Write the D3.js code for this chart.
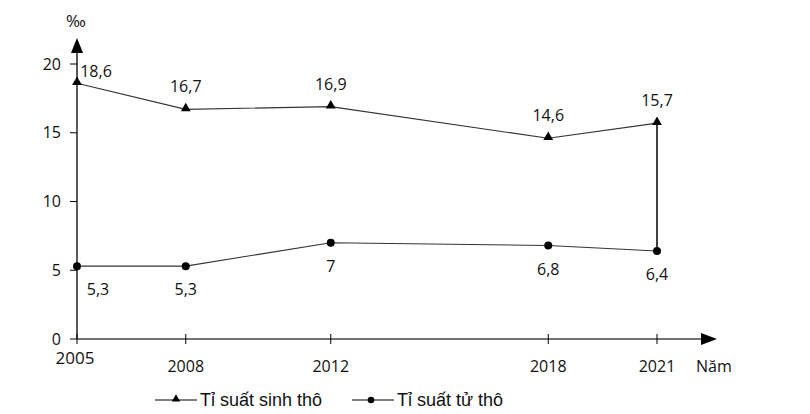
<!DOCTYPE html>
<html>
<head>
<meta charset="utf-8">
<script src="https://cdn.jsdelivr.net/npm/d3@7"></script>
<style>
  body { margin: 0; background: #fff; }
  svg text { font-family: "Open Sans", sans-serif; fill: #111; }
</style>
</head>
<body>
<div id="chart"></div>
<script>
// data
const years = [2005, 2008, 2012, 2018, 2021];
const birthRate = [18.6, 16.7, 16.9, 14.6, 15.7];
const deathRate = [5.3, 5.3, 7.0, 6.8, 6.4];
const birthLabels = ["18,6", "16,7", "16,9", "14,6", "15,7"];
const deathLabels = ["5,3", "5,3", "7", "6,8", "6,4"];
const yTicks = [0, 5, 10, 15, 20];

const width = 810, height = 414;

const svg = d3.select("#chart").append("svg")
    .attr("width", width)
    .attr("height", height);

const x = d3.scaleLinear().domain([2005, 2021]).range([77, 657]);
const y = d3.scaleLinear().domain([0, 20]).range([339, 64]);

// y axis with arrow
svg.append("line")
    .attr("x1", x(2005)).attr("x2", x(2005))
    .attr("y1", y(0)).attr("y2", 50)
    .attr("stroke", "#000").attr("stroke-width", 1.3);
svg.append("path")
    .attr("d", `M${x(2005)},38 L${x(2005) - 6},53 L${x(2005) + 6},53 Z`)
    .attr("fill", "#000");
svg.append("text")
    .attr("x", 76).attr("y", 27)
    .attr("text-anchor", "middle")
    .style("font-size", "17px")
    .text("‰");

yTicks.forEach(t => {
    svg.append("line")
        .attr("x1", 70).attr("x2", x(2005))
        .attr("y1", y(t)).attr("y2", y(t))
        .attr("stroke", "#000");
    svg.append("text")
        .attr("x", 61).attr("y", y(t))
        .attr("dy", "0.35em")
        .attr("text-anchor", "end")
        .style("font-size", "16px")
        .text(t);
});

// x axis with arrow
svg.append("line")
    .attr("x1", x(2005)).attr("x2", 705)
    .attr("y1", y(0)).attr("y2", y(0))
    .attr("stroke", "#444").attr("stroke-width", 1.5);
svg.append("path")
    .attr("d", `M717,${y(0)} L701,${y(0) - 6} L701,${y(0) + 6} Z`)
    .attr("fill", "#000");

years.forEach((yr, i) => {
    svg.append("line")
        .attr("x1", x(yr)).attr("x2", x(yr))
        .attr("y1", y(0) - 5).attr("y2", y(0) + 5)
        .attr("stroke", "#000");
    svg.append("text")
        .attr("x", i === 0 ? x(yr) - 2 : x(yr))
        .attr("y", i === 0 ? 364 : 372)
        .attr("text-anchor", "middle")
        .style("font-size", i === 0 ? "17px" : "16px")
        .text(yr);
});
svg.append("text")
    .attr("x", 696).attr("y", 372)
    .style("font-size", "16px")
    .text("Năm");

const line = d3.line().x(d => x(d[0])).y(d => y(d[1]));
const birthPts = years.map((yr, i) => [yr, birthRate[i]]);
const deathPts = years.map((yr, i) => [yr, deathRate[i]]);

svg.append("path")
    .attr("d", line(birthPts))
    .attr("fill", "none").attr("stroke", "#333").attr("stroke-width", 1.1);
svg.append("path")
    .attr("d", line(deathPts))
    .attr("fill", "none").attr("stroke", "#333").attr("stroke-width", 1.1);

// vertical connector at the last year
svg.append("line")
    .attr("x1", x(2021)).attr("x2", x(2021))
    .attr("y1", y(birthRate[4])).attr("y2", y(deathRate[4]))
    .attr("stroke", "#000").attr("stroke-width", 1.5);

const tri = d3.symbol().type(d3.symbolTriangle).size(42);

svg.selectAll(".tri")
    .data(birthPts)
    .enter().append("path")
    .attr("transform", d => `translate(${x(d[0])},${y(d[1]) - 1})`)
    .attr("d", tri)
    .attr("fill", "#000");

svg.selectAll(".dot")
    .data(deathPts)
    .enter().append("circle")
    .attr("cx", d => x(d[0]))
    .attr("cy", d => y(d[1]))
    .attr("r", 4)
    .attr("fill", "#000");

// value labels
svg.selectAll(".blab")
    .data(birthPts)
    .enter().append("text")
    .attr("x", (d, i) => i === 0 ? x(d[0]) + 19 : x(d[0]))
    .attr("y", (d, i) => i === 0 ? y(d[1]) - 6 : y(d[1]) - 17)
    .attr("text-anchor", "middle")
    .style("font-size", "16px")
    .text((d, i) => birthLabels[i]);

svg.selectAll(".dlab")
    .data(deathPts)
    .enter().append("text")
    .attr("x", (d, i) => i === 0 ? x(d[0]) + 21 : x(d[0]))
    .attr("y", d => y(d[1]) + 29)
    .attr("text-anchor", "middle")
    .style("font-size", "16px")
    .text((d, i) => deathLabels[i]);

// legend
const legend = [
    { label: "Tỉ suất sinh thô", x0: 155, mark: "tri" },
    { label: "Tỉ suất tử thô", x0: 352, mark: "dot" }
];
legend.forEach(l => {
    const ly = 400;
    svg.append("line")
        .attr("x1", l.x0).attr("x2", l.x0 + 42)
        .attr("y1", ly).attr("y2", ly)
        .attr("stroke", "#000").attr("stroke-width", 1.2);
    if (l.mark === "tri") {
        svg.append("path")
            .attr("transform", `translate(${l.x0 + 21},${ly - 1})`)
            .attr("d", d3.symbol().type(d3.symbolTriangle).size(30))
            .attr("fill", "#000");
    } else {
        svg.append("circle")
            .attr("cx", l.x0 + 19).attr("cy", ly).attr("r", 3.3)
            .attr("fill", "#000");
    }
    svg.append("text")
        .attr("x", l.x0 + 45).attr("y", ly + 6)
        .style("font-family", "'Liberation Sans', Arial, sans-serif")
        .style("font-size", "18px")
        .text(l.label);
});
</script>
</body>
</html>
